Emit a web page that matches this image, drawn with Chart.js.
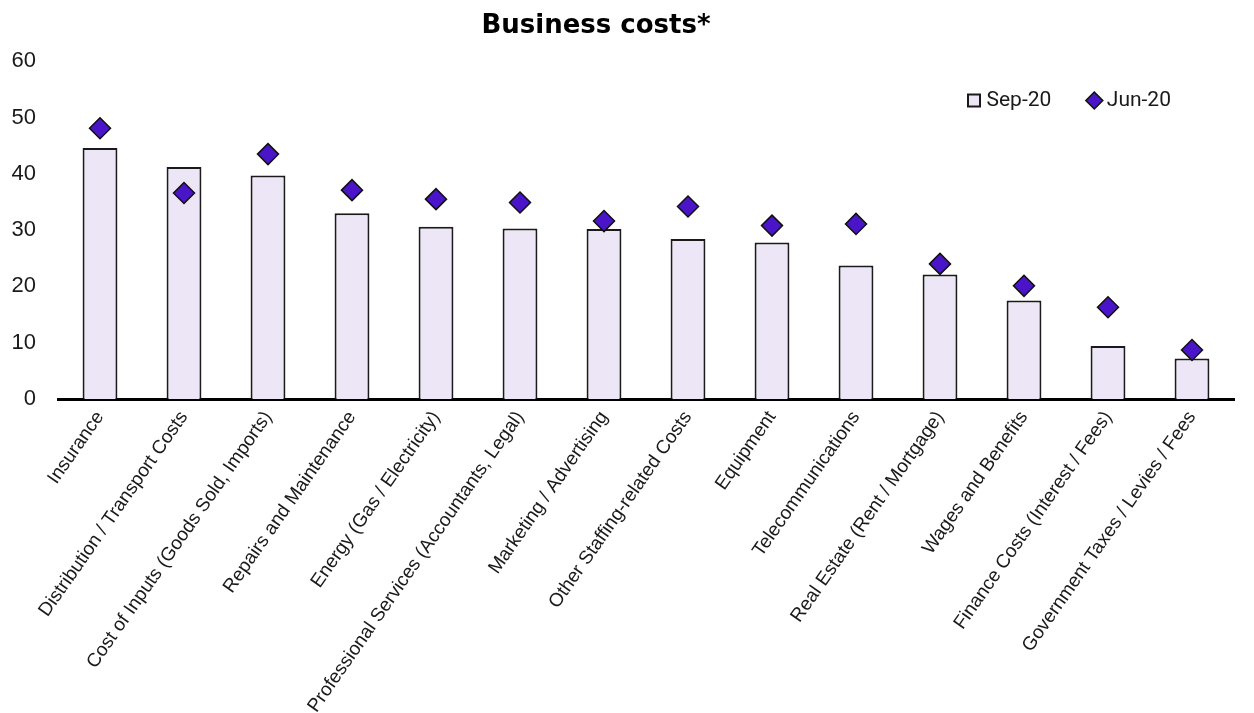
<!DOCTYPE html>
<html>
<head>
<meta charset="utf-8">
<script src="https://cdn.jsdelivr.net/npm/chart.js@4/dist/chart.umd.min.js"></script>
<style>
  html, body { margin: 0; padding: 0; background: #ffffff; }
  #wrap { width: 1254px; height: 713px; }
</style>
</head>
<body>
<div id="wrap"><canvas id="c" width="1254" height="713"></canvas></div>
<script>
const categories = [
  "Insurance",
  "Distribution / Transport Costs",
  "Cost of Inputs (Goods Sold, Imports)",
  "Repairs and Maintenance",
  "Energy (Gas / Electricity)",
  "Professional Services (Accountants, Legal)",
  "Marketing / Advertising",
  "Other Staffing-related Costs",
  "Equipment",
  "Telecommunications",
  "Real Estate (Rent / Mortgage)",
  "Wages and Benefits",
  "Finance Costs (Interest / Fees)",
  "Government Taxes / Levies / Fees"
];
const sep20 = [44.6, 41.2, 39.7, 33.0, 30.6, 30.3, 30.2, 28.4, 27.8, 23.7, 22.1, 17.5, 9.4, 7.2];
const jun20 = [48.1, 36.6, 43.5, 37.1, 35.5, 34.9, 31.6, 34.2, 30.8, 31.1, 24.0, 20.1, 16.3, 8.7];
const yTicks = [0, 10, 20, 30, 40, 50, 60];
const titleText = "Business costs*";
const seriesNames = ["Sep-20", "Jun-20"];

const placePlugin = {
  id: 'placePlugin',
  beforeLayout(chart) {
    const lg = chart.legend;
    if (lg && !lg._patchedFit) {
      const origFit = lg.fit;
      lg.fit = function () {
        origFit.call(this);
        this.height = 0;
      };
      lg._patchedFit = true;
    }
  },
  afterLayout(chart) {
    const t = chart.titleBlock;
    if (t) { t.left -= 21; t.right -= 21; }
    const lg = chart.legend;
    if (lg && lg.lineWidths) {
      lg.top = 49;
      lg.bottom = 49 + 70;
      lg.right = 972 + lg.lineWidths[0];
    }
  }
};

new Chart(document.getElementById('c'), {
  data: {
    labels: categories,
    datasets: [
      {
        type: 'line',
        label: seriesNames[1],
        data: jun20,
        showLine: false,
        pointStyle: 'rectRot',
        pointRadius: 10.5,
        pointHoverRadius: 10.5,
        pointBorderWidth: 1.5,
        pointBackgroundColor: '#4A14C8',
        pointBorderColor: '#111111',
        backgroundColor: '#4A14C8',
        borderColor: '#111111',
        borderWidth: 1.5,
        order: 0
      },
      {
        type: 'bar',
        label: seriesNames[0],
        data: sep20,
        backgroundColor: '#EDE6F6',
        borderColor: '#1a1a1a',
        borderWidth: 2,
        pointStyle: 'rect',
        categoryPercentage: 1.0,
        barPercentage: 0.415,
        order: 1
      }
    ]
  },
  options: {
    responsive: false,
    animation: false,
    devicePixelRatio: 1,
    layout: { padding: { left: 0, right: 20, top: 0, bottom: 0 } },
    plugins: {
      title: {
        display: true,
        text: titleText,
        color: '#000000',
        font: { family: 'DejaVu Sans', weight: 'bold', size: 26 },
        padding: { top: 11, bottom: 19 }
      },
      legend: {
        position: 'top',
        align: 'end',
        reverse: true,
        labels: {
          usePointStyle: true,
          boxWidth: 4,
          boxHeight: 12,
          padding: 41,
          color: '#1a1a1a',
          font: { family: 'Roboto', size: 21 }
        }
      },
      tooltip: { enabled: false }
    },
    scales: {
      x: {
        grid: { display: false, drawTicks: false },
        border: { display: true, color: '#000000', width: 3 },
        ticks: {
          autoSkip: false,
          maxRotation: 55,
          minRotation: 55,
          padding: 8,
          color: '#1a1a1a',
          font: { family: 'Liberation Sans', size: 19 }
        },
        afterFit(scale) { scale.height = 314; }
      },
      y: {
        min: 0,
        max: 60,
        grid: { display: false, drawTicks: false },
        border: { display: false },
        afterBuildTicks(scale) { scale.ticks = yTicks.map(v => ({ value: v })); },
        ticks: {
          stepSize: 10,
          padding: 22,
          color: '#1a1a1a',
          font: { family: 'Liberation Sans', size: 22 }
        },
        afterFit(scale) { scale.width = 58; }
      }
    }
  },
  plugins: [placePlugin]
});
</script>
</body>
</html>
